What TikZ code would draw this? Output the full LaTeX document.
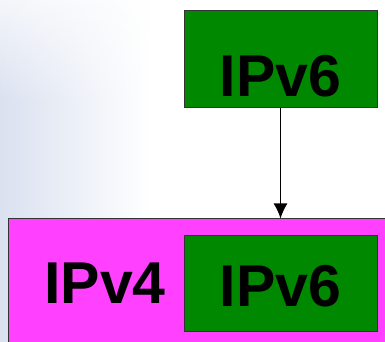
\documentclass[tikz,border=0pt]{standalone}
\usepackage{fontspec}
\setmainfont{Liberation Sans}
\usetikzlibrary{arrows.meta,positioning,fadings}
\definecolor{ipgreen}{RGB}{0,136,0}
\definecolor{ipmagenta}{RGB}{255,64,255}
\definecolor{haze}{RGB}{218,225,240}
\tikzset{
  protobox/.style={draw=black!80, line width=1pt, fill=ipgreen, minimum width=193pt, inner sep=0pt,
    font=\bfseries\fontsize{59}{59}\selectfont, text depth=0pt},
  carrier/.style={draw=black!80, line width=1pt, fill=ipmagenta, minimum width=400pt, minimum height=131pt, inner sep=0pt}
}
\begin{document}
\begin{tikzpicture}[x=1pt,y=1pt]
            \useasboundingbox (0,0) rectangle (385,342);
            \clip (0,0) rectangle (385,342);
            % hazy backdrop on the left
            \fill[haze, path fading=east] (0,0) rectangle (150,342);
            \fill[white, opacity=.7, path fading=south] (0,240) rectangle (150,342);
            \node[carrier] (v4) at (208,57.5) {};
            \node[protobox, minimum height=97pt, text height=75pt] (v6top) at (280.5,282.5) {IPv6};
            \node[protobox, minimum height=96pt, text height=46pt] (v6in) at (280.5,58) {IPv6};
            \node[font=\bfseries\fontsize{59}{59}\selectfont, anchor=base] (v4label) at (105,38) {IPv4};
            \draw[line width=1.3pt, -{Latex[length=15pt,width=14pt]}] (v6top.south) -- (v6top.south |- v4.north);
        \end{tikzpicture}
\end{document}
